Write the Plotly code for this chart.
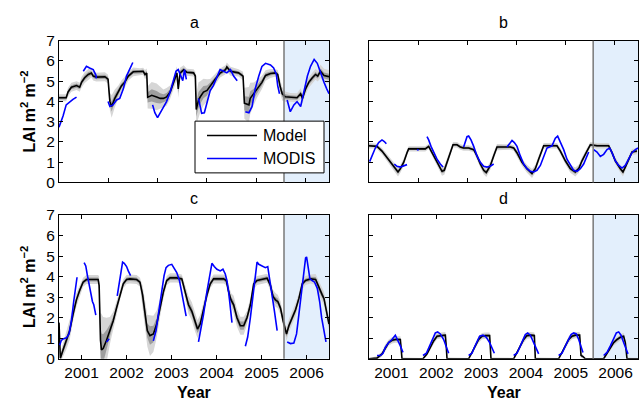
import plotly.graph_objects as go

T0 = 2001.0  # times below are years since 1 Jan 2001

# ---------------- Panel a ----------------
a_model_t = [0.00,0.16,0.20,0.275,0.39,0.46,0.50,0.57,0.65,0.72,0.76,0.83,1.02,1.09,1.13,1.17,1.24,1.32,1.39,1.46,
             1.54,1.65,1.80,1.87,1.91,1.95,1.97,2.06,2.17,2.25,2.32,2.39,2.47,2.54,2.62,2.65,2.69,2.77,2.84,2.99,
             3.03,3.05,3.10,3.14,3.21,3.29,3.36,3.47,3.58,3.70,3.73,3.81,3.99,4.09,4.12,4.22,4.25,4.33,4.40,4.51,
             4.59,4.70,4.81,4.86,4.91,4.96,5.03,5.14,5.29,5.37,5.41,5.48,5.55,5.63,5.70,5.75,5.81,5.89,6.00]
a_model_v = [4.18,4.18,4.46,4.70,4.78,4.70,4.94,5.17,5.33,5.40,5.25,5.20,5.22,5.10,4.00,3.75,4.15,4.46,4.78,4.94,
             5.25,5.46,5.46,5.49,5.33,5.40,4.20,4.30,4.22,4.15,4.15,4.22,4.46,4.86,5.40,4.62,5.40,5.56,5.44,5.41,
             5.25,3.60,4.07,4.23,4.46,4.54,4.78,5.09,5.40,5.56,5.70,5.49,5.41,5.25,3.91,3.83,4.15,4.38,4.62,4.94,
             5.28,5.38,5.41,5.33,4.78,4.38,4.23,4.20,4.18,4.38,4.15,4.62,4.94,5.17,5.33,5.25,5.49,5.28,5.22]
a_spread = [0.08,0.08,0.1,0.1,0.1,0.1,0.12,0.12,0.12,0.1,0.1,0.1,
            0.1,0.1,0.2,0.25,0.2,0.15,0.12,0.12,0.1,0.1,0.08,0.08,0.1,0.1,
            0.25,0.3,0.3,0.25,0.2,0.2,0.15,0.12,0.15,0.2,0.12,0.1,0.08,0.08,0.1,
            0.35,0.4,0.35,0.3,0.25,0.15,0.12,0.1,0.1,0.1,0.1,0.08,0.1,
            0.35,0.4,0.35,0.25,0.2,0.15,0.12,0.1,0.08,0.1,0.15,0.15,0.12,0.1,0.1,0.12,0.12,0.12,0.12,0.12,0.12,0.12,0.15,0.15,0.15]
a_modis_t = [0.00,0.09,0.16,0.24,0.31,0.39, None,
             0.54,0.61,0.68,0.76,0.82,0.83, None,
             1.09,1.13,1.20,1.28,1.35,1.39,1.43,1.50,1.58,1.64, None,
             2.08,2.13,2.19,2.25,2.32,2.39,2.47,2.54,2.60,2.65,2.71,2.75,2.79,2.83, None,
             3.10,3.14,3.17,3.23,3.29,3.36,3.43,3.51,3.58,3.66,3.73,3.81,3.88,3.96, None,
             4.14,4.22,4.29,4.36,4.44,4.51,4.59,4.70,4.77,4.83,4.86,4.90, None,
             5.07,5.14,5.22,5.29,5.37,5.44,5.52,5.59,5.67,5.74,5.81,5.89,5.95,6.00]
a_modis_v = [2.73,3.28,3.83,3.99,4.10,4.21, None,
             5.49,5.73,5.65,5.57,5.30,5.14, None,
             4.00,3.75,3.83,4.07,4.15,4.38,4.62,5.25,5.65,5.92, None,
             3.83,3.44,3.20,3.44,3.67,3.99,4.46,5.09,5.49,5.57,5.25,5.02,5.57,5.09, None,
             4.15,3.67,3.41,3.44,3.99,4.54,4.78,5.17,5.57,5.49,5.41,5.57,5.25,5.02, None,
             3.49,3.44,3.75,4.62,5.25,5.73,5.88,5.80,5.65,5.33,4.78,4.38, None,
             4.07,3.49,3.83,3.99,3.75,4.46,5.25,5.73,6.07,5.88,5.41,4.94,4.62,4.38]

# ---------------- Panel b ----------------
b_model_t = [0,0.104,0.178,0.29,0.40,0.51,0.587,0.647,0.70,0.773,0.848,0.885,0.96,1.145,1.256,1.331,1.405,1.48,1.554,1.628,
             1.68,1.74,1.814,1.874,1.963,2.037,2.11,2.223,2.335,2.409,2.483,2.558,2.617,2.706,2.781,2.855,3.004,3.152,3.227,3.30,
             3.413,3.524,3.636,3.71,3.784,3.896,4.045,4.193,4.268,4.379,4.491,4.602,4.677,4.751,4.862,4.937,5.086,5.309,5.346,5.42,
             5.494,5.606,5.665,5.717,5.79,5.866,5.978]
b_model_v = [1.81,1.81,1.78,1.55,1.23,0.91,0.68,0.52,0.68,0.99,1.47,1.66,1.66,1.66,1.66,1.78,1.47,1.15,0.84,0.55,
             0.60,0.99,1.47,1.86,1.86,1.75,1.70,1.70,1.62,1.31,0.91,0.60,0.49,0.83,1.31,1.75,1.75,1.75,1.70,1.47,
             0.99,0.68,0.44,0.68,1.15,1.81,1.81,1.81,1.55,1.07,0.68,0.52,0.68,1.07,1.55,1.86,1.81,1.81,1.81,1.47,
             1.07,0.68,0.52,0.76,1.15,1.50,1.55]
b_spread = [0.06,0.06,0.06,0.07,0.08,0.08,0.09,0.1,0.09,0.08,0.07,0.06,0.06,0.06,0.06,0.06,0.07,0.08,0.09,0.1,
            0.1,0.08,0.07,0.06,0.06,0.06,0.06,0.06,0.06,0.07,0.08,0.09,0.1,0.09,0.08,0.07,0.06,0.06,0.06,0.07,
            0.08,0.09,0.1,0.09,0.08,0.06,0.06,0.06,0.07,0.08,0.09,0.1,0.09,0.08,0.07,0.06,0.06,0.06,0.06,0.07,
            0.08,0.09,0.1,0.09,0.08,0.07,0.07]
b_modis_t = [0.015,0.067,0.141,0.216,0.29,0.342,0.387, None,
             0.565,0.625,0.699,0.773,0.848, None,
             1.071,1.108, None,
             1.294,1.331,1.383,1.442,1.517,1.591,1.651, None,
             2.111,2.149,2.186,2.223,2.275,2.335,2.409,2.483,2.558,2.632,2.706,2.781, None,
             3.078,3.138,3.19,3.242,3.301,3.375,3.45,3.524,3.599,3.673,3.747,3.822,3.896,3.97,4.082,4.156,4.208,4.268,
             4.342,4.416,4.491,4.565,4.639,4.714,4.788,4.862,4.9, None,
             5.011,5.086,5.16,5.234,5.309,5.368,5.42,5.494,5.569,5.643,5.717,5.79,5.866,5.94,6.0]
b_modis_v = [1.03,1.31,1.70,1.97,2.10,2.02,1.91, None,
             0.91,0.80,0.76,0.84,0.88, None,
             1.62,1.60, None,
             2.26,2.10,1.78,1.47,1.15,0.91,0.76, None,
             1.75,2.02,2.26,2.29,2.10,1.78,1.31,0.99,0.80,0.76,0.80,0.91, None,
             1.75,1.94,2.07,1.97,1.78,1.31,0.91,0.68,0.55,0.52,0.60,0.84,1.23,1.70,1.81,2.18,2.29,2.02,
             1.62,1.15,0.84,0.60,0.55,0.68,0.91,1.31,1.50, None,
             1.62,1.50,1.28,1.39,1.62,1.70,1.47,1.07,0.84,0.71,0.84,1.15,1.47,1.62,1.70]

# ---------------- Panel c ----------------
c_model_t = [0,0.03,0.089,0.164,0.238,0.312,0.387,0.461,0.535,0.61,
             0.87,0.892,0.922,0.944,0.981,1.056,1.13,1.204,1.279,1.353,
             1.428,1.502,1.576,1.725,1.799,1.859,1.911,1.963,2.022,2.097,
             2.171,2.245,2.32,2.394,2.468,2.617,2.729,2.803,2.877,2.952,
             3.026,3.078,3.138,3.212,3.286,3.361,3.435,3.658,3.717,3.77,
             3.822,3.881,3.955,4.03,4.104,4.178,4.253,4.327,4.401,4.625,
             4.699,4.758,4.81,4.862,4.922,4.981,5.056,5.108,5.182,5.257,
             5.331,5.405,5.48,5.591,5.703,5.777,5.851,5.888,5.948,6.0]
c_model_v = [1.76,0.03,0.43,0.90,1.37,2.16,2.87,3.34,3.73,3.86,
             3.86,3.57,0.90,0.43,0.50,0.90,1.37,1.84,2.47,3.10,
             3.65,3.86,3.89,3.86,3.73,3.10,2.16,1.37,1.13,1.21,
             1.69,2.47,3.26,3.81,3.94,3.94,3.89,3.26,2.63,2.31,
             1.76,1.45,1.69,2.47,3.10,3.65,3.89,3.89,3.81,3.26,
             2.87,2.63,2.00,1.61,1.61,2.00,2.63,3.65,3.81,3.92,
             3.57,3.02,2.87,2.79,2.47,1.84,1.21,1.61,2.00,2.39,
             2.94,3.65,3.81,3.89,3.86,3.43,3.10,2.94,2.31,1.69]
c_spread = [0.1,0.1,0.15,0.2,0.2,0.15,0.15,0.12,0.1,0.1,
            0.1,0.2,0.6,0.8,0.7,0.5,0.3,0.2,0.15,0.12,
            0.1,0.1,0.1,0.1,0.1,0.2,0.3,0.35,0.45,0.4,
            0.3,0.2,0.15,0.1,0.1,0.1,0.1,0.15,0.2,0.2,
            0.2,0.2,0.2,0.15,0.12,0.1,0.1,0.1,0.1,0.15,
            0.15,0.2,0.2,0.2,0.2,0.15,0.15,0.12,0.1,0.1,
            0.12,0.15,0.15,0.15,0.15,0.15,0.15,0.15,0.15,0.15,
            0.12,0.12,0.1,0.1,0.12,0.15,0.15,0.15,0.15,0.15]
c_modis_t = [0.015,0.052,0.104,0.164,0.223,0.275,0.327,0.372,0.401, None,
             0.558,0.595,0.632,0.669,0.706,0.743,0.773,0.818, None,
             1.056,1.115, None,
             1.294,1.338,1.375,1.413,1.45,1.502,1.539,1.591, None,
             2.097,2.156,2.208,2.283,2.335,2.379,2.431,2.506,2.558,2.617,2.677,2.729,2.781,2.825, None,
             3.1,3.152,3.212,3.286,3.346,3.398,3.45,3.509,3.584,3.643,3.695,3.732,3.77,3.807,3.844, None,
             4.141,4.193,4.253,4.312,4.364,4.401,4.439,4.513,4.587,4.639,4.684,4.736,4.788,4.848, None,
             5.071,5.145,5.219,5.279,5.331,5.383,5.442,5.48,5.502,5.532,5.576,5.628,5.68,5.74,5.792,5.836,5.888,5.933]
c_modis_v = [0.66,0.90,0.98,1.02,1.21,1.84,2.79,3.57,3.97, None,
             4.68,4.52,4.05,3.57,3.10,2.79,2.63,2.13, None,
             0.82,0.98, None,
             3.07,3.73,4.36,4.71,4.65,4.49,4.28,4.05, None,
             0.87,1.37,2.16,3.26,4.05,4.44,4.55,4.60,4.44,4.20,3.81,3.26,2.63,2.08, None,
             0.82,1.37,2.16,3.26,4.05,4.65,4.49,4.36,4.28,4.36,4.13,3.81,3.26,2.47,1.76, None,
             0.61,1.06,2.00,3.10,4.13,4.71,4.60,4.52,4.44,4.49,3.89,3.10,2.31,1.37, None,
             0.82,0.74,0.77,1.21,2.16,3.10,4.20,4.91,4.96,4.52,3.89,3.81,3.73,3.43,2.79,2.00,1.29,0.82]

# ---------------- Panel d ----------------
d_model_t = [0,0.178,0.29,0.364,0.439,0.513,0.587,0.699,0.721,0.736,
             1.204,1.294,1.368,1.442,1.517,1.628,1.703,1.725,1.74,
             2.223,2.297,2.372,2.446,2.52,2.595,2.691,2.721,
             3.227,3.301,3.375,3.45,3.524,3.599,3.688,3.71,
             4.23,4.305,4.379,4.454,4.528,4.602,4.699,4.729,4.773,4.825,
             5.234,5.309,5.383,5.457,5.532,5.606,5.68,5.717,5.755,6.0]
d_model_v = [0,0.03,0.24,0.55,0.79,0.90,0.94,0.94,0.55,0.0,
             0.0,0.24,0.55,0.87,1.10,1.15,1.15,0.55,0.0,
             0.0,0.31,0.63,0.94,1.10,1.13,1.13,0.0,
             0.0,0.31,0.63,0.94,1.13,1.15,1.13,0.0,
             0.0,0.31,0.63,0.94,1.10,1.15,1.15,0.16,0.11,0.0,
             0.0,0.27,0.55,0.79,0.94,1.05,1.10,0.79,0.0,0.0]
d_spread = [0.02,0.04,0.06,0.07,0.07,0.07,0.07,0.07,0.07,0.03,
            0.02,0.05,0.07,0.07,0.07,0.07,0.07,0.07,0.03,
            0.02,0.05,0.07,0.07,0.07,0.07,0.07,0.03,
            0.02,0.05,0.07,0.07,0.07,0.07,0.07,0.03,
            0.02,0.05,0.07,0.07,0.07,0.07,0.07,0.05,0.04,0.02,
            0.02,0.05,0.07,0.07,0.07,0.07,0.07,0.07,0.03,0.02]
d_modis_t = [0.178,0.253,0.312,0.364,0.439,0.513,0.587,0.639,0.699,0.758, None,
             1.204,1.279,1.353,1.428,1.48,1.532,1.591,1.665,1.725,1.777, None,
             2.223,2.297,2.349,2.409,2.468,2.543,2.617,2.691,2.743,2.796, None,
             3.227,3.301,3.361,3.42,3.487,3.539,3.599,3.673,3.732,3.784, None,
             4.23,4.305,4.364,4.431,4.506,4.565,4.625,4.677,4.729,4.773, None,
             5.234,5.309,5.383,5.457,5.517,5.569,5.621,5.68,5.732,5.777]
d_modis_v = [0.16,0.16,0.27,0.55,0.79,0.94,1.15,0.94,0.63,0.31, None,
             0.16,0.27,0.63,1.02,1.26,1.31,1.21,0.94,0.63,0.27, None,
             0.16,0.27,0.55,0.87,1.10,1.15,1.05,0.79,0.55,0.27, None,
             0.16,0.27,0.55,0.87,1.18,1.26,1.15,0.79,0.47,0.24, None,
             0.16,0.27,0.55,0.87,1.18,1.26,1.21,0.94,0.55,0.31, None,
             0.16,0.31,0.63,1.02,1.26,1.31,1.15,0.79,0.47,0.24]

panel_titles = ["a", "b", "c", "d"]
year_labels = ["2001", "2002", "2003", "2004", "2005", "2006"]
legend_names = ["Model", "MODIS"]
forecast_start = 5.0  # 2006 shaded
y_ticks = [0, 1, 2, 3, 4, 5, 6, 7]

panels = [
    (a_model_t, a_model_v, a_spread, a_modis_t, a_modis_v),
    (b_model_t, b_model_v, b_spread, b_modis_t, b_modis_v),
    (c_model_t, c_model_v, c_spread, c_modis_t, c_modis_v),
    (d_model_t, d_model_v, d_spread, d_modis_t, d_modis_v),
]

FONT = "Liberation Sans, Arial, Helvetica, sans-serif"
OUTER = "rgb(214,214,214)"
INNER = "rgb(158,158,158)"
BLUE = "#0000ff"

fig = go.Figure()
for i, (mt, mv, sp, ot, ov) in enumerate(panels):
    sfx = "" if i == 0 else str(i + 1)
    xr, yr = "x" + sfx, "y" + sfx
    n = min(len(mt), len(mv), len(sp))
    xs = [T0 + t for t in mt[:n]]
    mvv = mv[:n]
    spp = sp[:n]
    for mult, col in ((2.2, OUTER), (1.0, INNER)):
        up = [m + mult * s for m, s in zip(mvv, spp)]
        lo = [m - mult * s for m, s in zip(mvv, spp)]
        fig.add_trace(go.Scatter(x=xs + xs[::-1], y=up + lo[::-1], fill="toself",
                                 fillcolor=col, line=dict(width=0), mode="lines",
                                 hoverinfo="skip", showlegend=False, xaxis=xr, yaxis=yr))
    fig.add_trace(go.Scatter(x=xs, y=mvv, mode="lines", name=legend_names[0],
                             line=dict(color="black", width=1.6),
                             showlegend=False, xaxis=xr, yaxis=yr))
    m = min(len(ot), len(ov))
    oxs = [None if t is None else T0 + t for t in ot[:m]]
    fig.add_trace(go.Scatter(x=oxs, y=ov[:m], mode="lines", name=legend_names[1],
                             line=dict(color=BLUE, width=1.6), connectgaps=False,
                             showlegend=False, xaxis=xr, yaxis=yr))

W, H = 641, 408
dx_left = [59 / W, 329 / W]
dx_right = [369 / W, 638 / W]
dy_top = [(H - 181) / H, (H - 33) / H]
dy_bot = [(H - 365) / H, (H - 215) / H]

tick_common = dict(showline=True, linecolor="black", linewidth=1, mirror="ticks",
                   ticks="inside", ticklen=4, tickwidth=1, tickcolor="black",
                   showgrid=False, zeroline=False,
                   tickfont=dict(size=15.5, color="black", family=FONT))

upper_ticks = [T0 + 400 * k / 365.25 for k in range(1, 6)]
mid_year = [T0 + k + 0.5 for k in range(len(year_labels))]

layout_axes = {}
specs = [(dx_left, dy_top, True, False), (dx_right, dy_top, False, False),
         (dx_left, dy_bot, True, True), (dx_right, dy_bot, False, True)]
for i, (dx, dy, ylab, xlab) in enumerate(specs):
    sfx = "" if i == 0 else str(i + 1)
    xa = dict(tick_common, domain=dx, range=[T0, T0 + 6], anchor="y" + sfx)
    if xlab:
        xa.update(tickvals=mid_year, ticktext=year_labels, showticklabels=True)
    else:
        xa.update(tickvals=upper_ticks, showticklabels=False)
    ya = dict(tick_common, domain=dy, range=[0, 7], tickvals=y_ticks,
              showticklabels=ylab, anchor="x" + sfx)
    layout_axes["xaxis" + sfx] = xa
    layout_axes["yaxis" + sfx] = ya

shapes = []
for i in range(4):
    sfx = "" if i == 0 else str(i + 1)
    shapes.append(dict(type="rect", xref="x" + sfx, yref="y" + sfx + " domain",
                       x0=T0 + forecast_start, x1=T0 + 6, y0=0, y1=1,
                       fillcolor="rgb(227,239,252)", line=dict(width=0), layer="below"))
    shapes.append(dict(type="line", xref="x" + sfx, yref="y" + sfx + " domain",
                       x0=T0 + forecast_start, x1=T0 + forecast_start, y0=0, y1=1,
                       line=dict(color="rgb(120,120,120)", width=1.5), layer="above"))

# legend box drawn in panel a (pixel layout -> paper coords)
def px(x):
    return x / W

def py(y):
    return (H - y) / H

shapes.append(dict(type="rect", xref="paper", yref="paper",
                   x0=px(195), x1=px(324), y0=py(171), y1=py(117),
                   fillcolor="white", line=dict(color="black", width=1), layer="above"))
legend_rows = [(132, "black"), (156, BLUE)]
for (ry, col) in legend_rows:
    shapes.append(dict(type="line", xref="paper", yref="paper",
                       x0=px(207), x1=px(257), y0=py(ry), y1=py(ry),
                       line=dict(color=col, width=1.6), layer="above"))

annotations = []
for name, (ry, col) in zip(legend_names, legend_rows):
    annotations.append(dict(text=name, x=px(261), y=py(ry), xref="paper", yref="paper",
                            showarrow=False, xanchor="left", yanchor="middle",
                            font=dict(size=16, color="black", family=FONT)))

title_pos = [(194, 14), (503.5, 14), (194, 198), (503.5, 198)]
for txt, (tx, ty) in zip(panel_titles, title_pos):
    annotations.append(dict(text=txt, x=px(tx), y=py(ty), xref="paper", yref="paper",
                            showarrow=False, xanchor="center", yanchor="middle",
                            font=dict(size=16, color="black", family=FONT)))
for tx in (194, 503.5):
    annotations.append(dict(text="<b>Year</b>", x=px(tx), y=py(400), xref="paper", yref="paper",
                            showarrow=False, xanchor="center", yanchor="middle",
                            font=dict(size=16, color="black", family=FONT)))
for ty in (107, 290):
    annotations.append(dict(text="<b>LAI m<sup>2</sup> m<sup>\u22122</sup></b>", x=px(28), y=py(ty),
                            xref="paper", yref="paper", showarrow=False, textangle=-90,
                            xanchor="center", yanchor="middle",
                            font=dict(size=16, color="black", family=FONT)))

fig.update_layout(
    width=W, height=H, margin=dict(l=0, r=0, t=0, b=0),
    paper_bgcolor="white", plot_bgcolor="white",
    font=dict(family=FONT, color="black"),
    shapes=shapes, annotations=annotations, showlegend=False,
    **layout_axes,
)

fig.write_html("out.html", config={"displayModeBar": False},
               post_script="document.body.style.margin='0';document.body.style.padding='0';")
